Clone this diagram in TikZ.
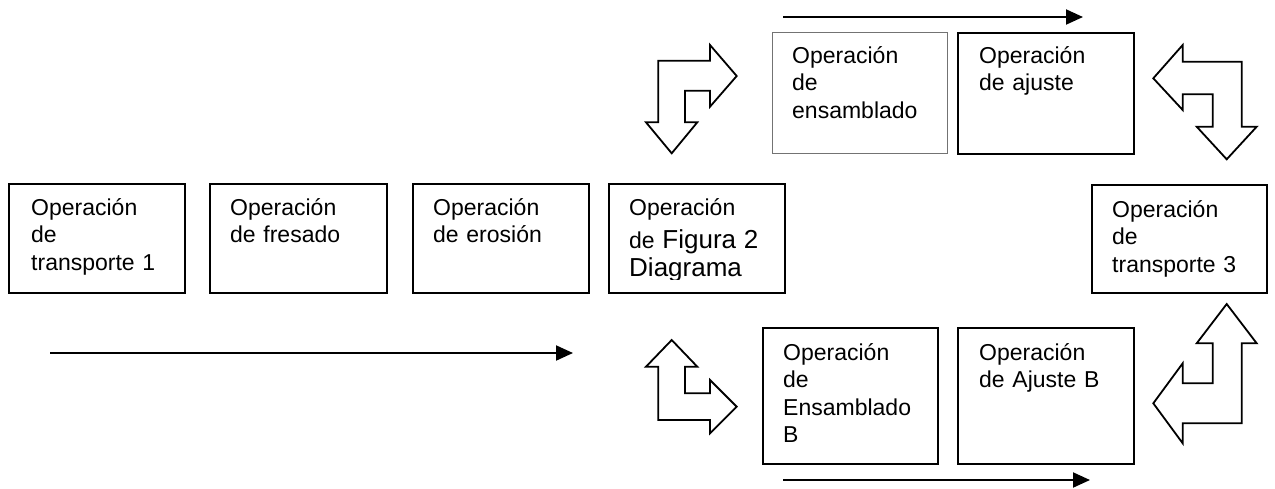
\documentclass[tikz,border=0pt]{standalone}
\usepackage{fontspec}
\setmainfont{Liberation Sans}
\usetikzlibrary{arrows.meta}
\begin{document}
\begin{tikzpicture}[x=1pt,y=-1pt,
  opbox/.style={draw=black,line width=2pt,anchor=north west,inner sep=0pt},
  graybox/.style={opbox,draw=black!55,line width=1.2pt},
  optext/.style={anchor=base west,inner sep=0pt,align=left,text width=160pt,
    font=\fontsize{23}{27.5}\selectfont},
  flow/.style={line width=2pt,-{Triangle[length=17pt,width=15pt]}},
  bent/.style={draw=black,line width=1.8pt,line join=miter,fill=white}]
\useasboundingbox (0,0) rectangle (1275,488);

% middle row
\node[opbox,minimum width=176pt,minimum height=109pt] (b1) at (8,183) {};
\node[opbox,minimum width=177pt,minimum height=109pt] (b2) at (209,183) {};
\node[opbox,minimum width=176pt,minimum height=109pt] (b3) at (412,183) {};
\node[opbox,minimum width=176pt,minimum height=109pt] (b4) at (608,183) {};
\node[opbox,minimum width=175pt,minimum height=108pt] (b5) at (1091,184) {};
% top row
\node[graybox,minimum width=175pt,minimum height=121pt] (t1) at (772,32) {};
\node[opbox,minimum width=176pt,minimum height=121pt] (t2) at (957,32) {};
% bottom row
\node[opbox,minimum width=175pt,minimum height=136pt] (u1) at (762,327) {};
\node[opbox,minimum width=176pt,minimum height=136pt] (u2) at (957,327) {};

% texts
\node[optext] (x1) at (b1.north west) [xshift=23pt,yshift=-32pt] {Operación\\de\\transporte 1};
\node[optext] (x2) at (b2.north west) [xshift=21pt,yshift=-32pt] {Operación\\de fresado};
\node[optext] (x3) at (b3.north west) [xshift=21pt,yshift=-32pt] {Operación\\de erosión};
\begin{scope}
\clip (608,183) rectangle (784,279.5);
\node[optext] (x4) at (b4.north west) [xshift=21pt,yshift=-32pt]
  {Operación\\[6pt]de {\fontsize{26}{28}\selectfont Figura 2}\\[0pt]{\fontsize{26}{28}\selectfont Diagrama}};
\end{scope}
\node[optext] (x5) at (b5.north west) [xshift=21pt,yshift=-33pt] {Operación\\de\\transporte 3};
\node[optext] (x6) at (t1.north west) [xshift=20pt,yshift=-31pt] {Operación\\de\\ensamblado};
\node[optext] (x7) at (t2.north west) [xshift=22pt,yshift=-31pt] {Operación\\de ajuste};
\node[optext] (x8) at (u1.north west) [xshift=21pt,yshift=-33pt] {Operación\\de\\Ensamblado\\B};
\node[optext] (x9) at (u2.north west) [xshift=22pt,yshift=-33pt] {Operación\\de Ajuste B};

% straight flow arrows
\coordinate (l0) at (50,353);  \coordinate (l1) at (573,353);
\coordinate (a0) at (783,17);  \coordinate (a1) at (1083,17);
\coordinate (c0) at (783,480); \coordinate (c1) at (1090,480);
\draw[flow] (l0) -- (l1);
\draw[flow] (a0) -- (a1);
\draw[flow] (c0) -- (c1);

% bent double arrows
\path[bent] (658.3,60.7) -- (710,60.7) -- (710,45) -- (736.7,76) -- (710,106.7)
  -- (710,90.7) -- (685,90.7) -- (685,122.3) -- (697.3,122.3) -- (671.7,153.3)
  -- (646,122.3) -- (658.3,122.3) -- cycle;
\path[bent] (658.3,420) -- (658.3,366.7) -- (646,366.7) -- (671.7,340) -- (697.3,366.7)
  -- (685,366.7) -- (685,393.3) -- (710,393.3) -- (710,380) -- (736.7,406.7)
  -- (710,433.3) -- (710,420) -- cycle;
\path[bent] (1241.7,61.7) -- (1241.7,126.7) -- (1256.7,126.7) -- (1226.7,159.3)
  -- (1196.7,126.7) -- (1212.7,126.7) -- (1212.7,94.3) -- (1182.7,94.3) -- (1182.7,110)
  -- (1153.3,78.3) -- (1182.7,45) -- (1182.7,61.7) -- cycle;
\path[bent] (1241.7,423.3) -- (1241.7,343.3) -- (1256.7,343.3) -- (1226.7,304)
  -- (1196.7,343.3) -- (1212.7,343.3) -- (1212.7,383.3) -- (1182.7,383.3) -- (1182.7,363.3)
  -- (1153.3,403.3) -- (1182.7,443.3) -- (1182.7,423.3) -- cycle;
\end{tikzpicture}
\end{document}
